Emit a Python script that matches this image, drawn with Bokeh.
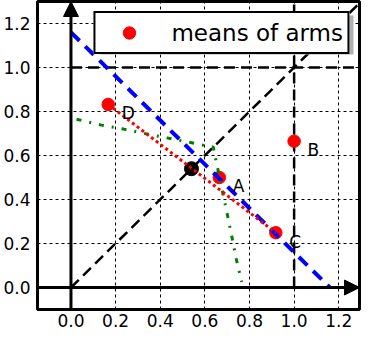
from bokeh.plotting import figure
from bokeh.models import (FixedTicker, PrintfTickFormatter, Arrow,
                          NormalHead, Legend, LegendItem, Range1d)
from bokeh.embed import file_html
from bokeh.resources import INLINE
from bokeh.core.properties import value

# ---- data ----
arm_names = ["A", "B", "C", "D"]
arm_x = [0.665, 1.0, 0.918, 0.167]
arm_y = [0.50, 0.665, 0.249, 0.832]
center_x = [0.54]
center_y = [0.54]
blue_x = [0.0, 1.16]
blue_y = [1.16, 0.0]
green_x = [0.025, 0.137, 0.236, 0.33, 0.43, 0.53, 0.60, 0.638, 0.645, 0.66, 0.68, 0.70, 0.72, 0.74, 0.765]
green_y = [0.765, 0.738, 0.72, 0.70, 0.68, 0.66, 0.645, 0.638, 0.60, 0.53, 0.43, 0.335, 0.236, 0.133, 0.025]
ref_x0 = [0.0, 1.0, 0.0]
ref_y0 = [1.0, 0.0, 0.0]
ref_x1 = [1.3, 1.0, 1.3]
ref_y1 = [1.0, 1.3, 1.3]
tick_values = [0.0, 0.2, 0.4, 0.6, 0.8, 1.0, 1.2]
x_limits = (-0.15, 1.293)
y_limits = (-0.1, 1.3)
legend_label = "means of arms"

FONT = "DejaVu Sans"

p = figure(width=362, height=334,
           x_range=Range1d(*x_limits), y_range=Range1d(*y_limits),
           output_backend="svg", toolbar_location=None,
           min_border_left=36, min_border_right=3, min_border_top=1, min_border_bottom=25)

p.background_fill_color = "white"
p.border_fill_color = "white"
p.outline_line_color = "black"
p.outline_line_width = 3
p.outline_line_alpha = 1.0

for ax in (p.xaxis, p.yaxis):
    ax.ticker = FixedTicker(ticks=tick_values)
    ax.formatter = PrintfTickFormatter(format="%.1f")
    ax.axis_line_color = None
    ax.major_tick_line_color = None
    ax.minor_tick_line_color = None
    ax.major_tick_out = 0
    ax.major_tick_in = 0
    ax.minor_tick_out = 0
    ax.minor_tick_in = 0
    ax.major_label_text_font = FONT
    ax.major_label_text_font_size = "17px"
    ax.major_label_text_color = "black"
p.yaxis.major_label_standoff = 7
p.xaxis.major_label_standoff = 4

for g in (p.xgrid, p.ygrid):
    g.ticker = FixedTicker(ticks=tick_values)
    g.grid_line_color = "black"
    g.grid_line_dash = "3 3"
    g.grid_line_width = 1
    g.grid_line_alpha = 1.0

# reference dashed lines
p.segment(ref_x0, ref_y0, ref_x1, ref_y1, line_color="black", line_width=2.5,
          line_dash="11 6")

markers = p.scatter(arm_x, arm_y, size=12.5, fill_color="red", line_color="red")
p.scatter(center_x, center_y, size=14, fill_color="black", line_color="black")

p.line(blue_x, blue_y, line_color="blue", line_width=4, line_dash="12 8")
p.line(green_x, green_y, line_color="green", line_width=3, line_dash="5 8 2 8")
p.line([arm_x[3], arm_x[2]], [arm_y[3], arm_y[2]], line_color="red", line_width=3,
       line_dash="3 3")

p.text(x=[v + 0.06 for v in arm_x], y=[v - 0.04 for v in arm_y], text=arm_names,
       text_font=value(FONT), text_font_size="17px", text_color="black",
       text_align="left", text_baseline="alphabetic")

# legend drop shadow (drawn over the lines, under the legend box)
p.quad(left=[0.131], right=[1.266], top=[1.236], bottom=[1.059],
       fill_color="#b0b0b0", fill_alpha=1.0, line_color=None)

# axes arrows
head_kw = dict(size=15, fill_color="black", line_color="black", line_width=1)
p.add_layout(Arrow(end=NormalHead(**head_kw), x_start=0, y_start=y_limits[0],
                   x_end=0, y_end=y_limits[1], line_width=3, line_color="black"))
p.add_layout(Arrow(end=NormalHead(**head_kw), x_start=x_limits[0], y_start=0,
                   x_end=x_limits[1], y_end=0, line_width=3, line_color="black"))

legend = Legend(items=[LegendItem(label=legend_label, renderers=[markers])],
                location="top_right", margin=10, padding=4,
                glyph_width=59, glyph_height=31, label_standoff=13,
                label_text_font=FONT, label_text_font_size="23px",
                label_text_color="black",
                border_line_color="black", border_line_width=2, border_line_alpha=1.0,
                background_fill_color="white", background_fill_alpha=1.0, spacing=0)
p.add_layout(legend)

open("out.html", "w").write(file_html(p, INLINE))
